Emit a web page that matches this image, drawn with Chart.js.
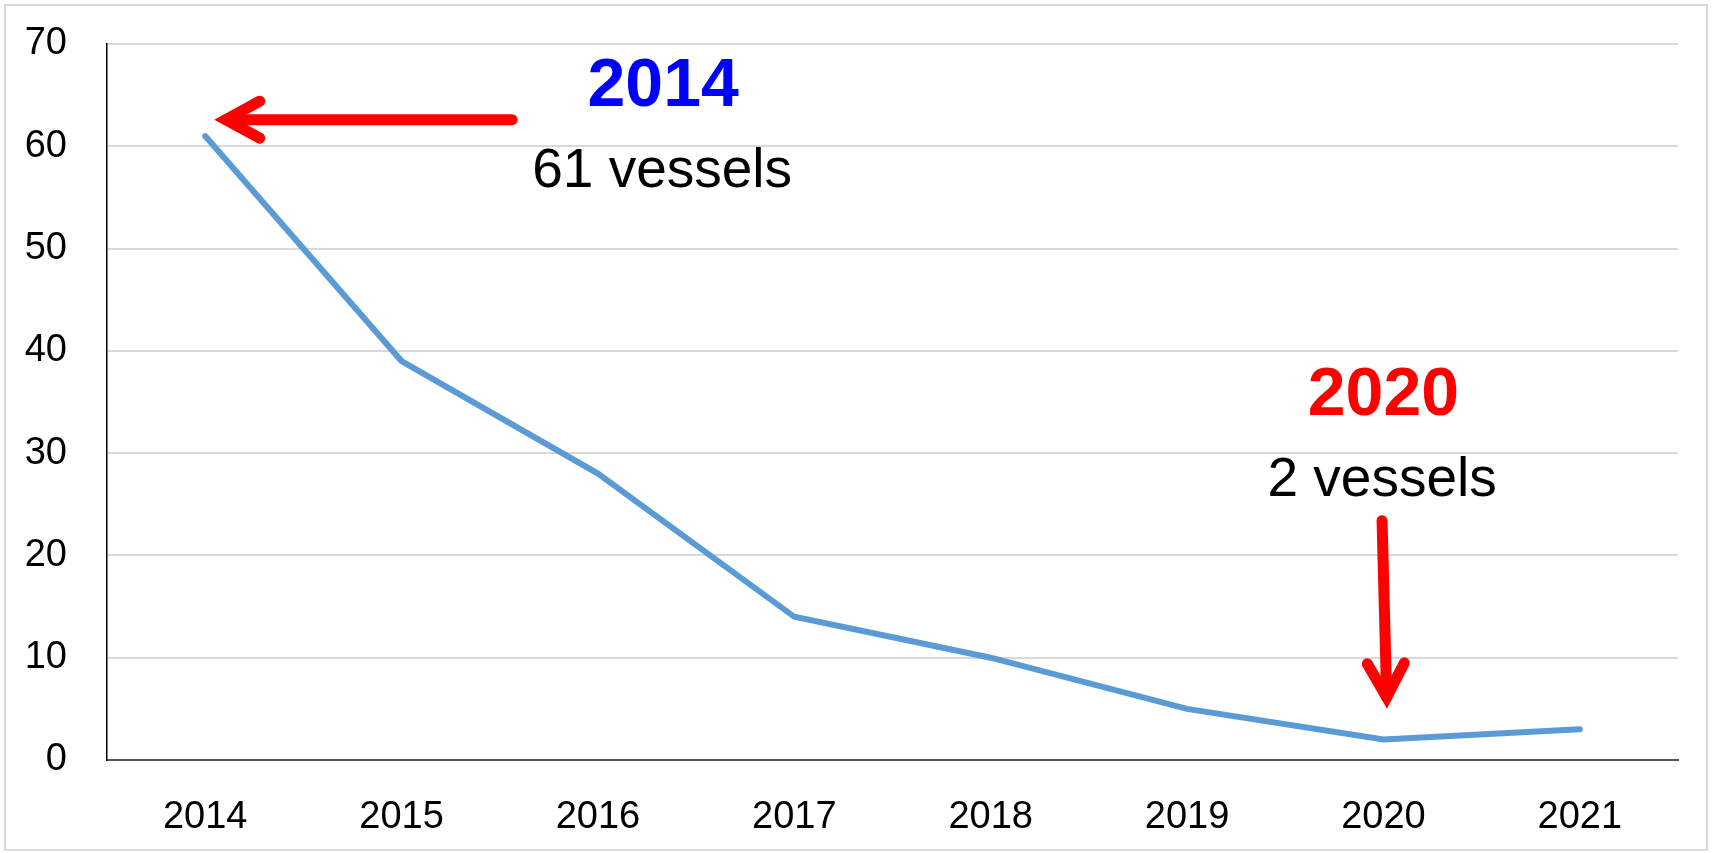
<!DOCTYPE html>
<html lang="en">
<head>
    <meta charset="UTF-8">
    <title>Vessels per year</title>
    <script src="https://cdn.jsdelivr.net/npm/chart.js"></script>
    <style>
        html, body { margin: 0; padding: 0; background: #fff; }
        .chart-container { width: 1712px; height: 853px; }
    </style>
</head>
<body>
    <div class="chart-container"><canvas id="vesselChart"></canvas></div>

    <script>
        // data
        const years = ['2014', '2015', '2016', '2017', '2018', '2019', '2020', '2021'];
        const vessels = [61, 39, 28, 14, 10, 5, 2, 3];
        const yTicks = [0, 10, 20, 30, 40, 50, 60, 70];

        const FONT = "'Liberation Sans', Arial, sans-serif";

        // frame around the whole picture
        const framePlugin = {
            id: 'frame',
            beforeDraw(chart) {
                const ctx = chart.ctx;
                ctx.save();
                ctx.strokeStyle = '#d9d9d9';
                ctx.lineWidth = 2;
                ctx.strokeRect(5, 5, chart.width - 10, chart.height - 8);
                ctx.restore();
            }
        };

        function arrow(ctx, x1, y1, x2, y2) {
            const ang = Math.atan2(y2 - y1, x2 - x1);
            const lw = 11, back = 34, half = 18.5;
            const cos = Math.cos(ang), sin = Math.sin(ang);
            // pull the vertex back so the miter point lands on (x2, y2)
            const miter = (lw / 2) / Math.sin(Math.atan2(half, back));
            const tx = x2 - miter * cos, ty = y2 - miter * sin;
            const bx = tx - back * cos, by = ty - back * sin;
            const nx = -sin * half, ny = cos * half;
            ctx.save();
            ctx.strokeStyle = '#ff0000';
            ctx.lineWidth = lw;
            ctx.lineCap = 'round';
            ctx.lineJoin = 'miter';
            ctx.beginPath();
            ctx.moveTo(x1, y1);
            ctx.lineTo(tx, ty);
            ctx.stroke();
            ctx.beginPath();
            ctx.moveTo(bx + nx, by + ny);
            ctx.lineTo(tx, ty);
            ctx.lineTo(bx - nx, by - ny);
            ctx.stroke();
            ctx.restore();
        }

        // notes and arrows, placed in data space (category index, value)
        const notePlugin = {
            id: 'notes',
            afterDatasetsDraw(chart) {
                const ctx = chart.ctx;
                const x = chart.scales.x, y = chart.scales.y;
                const px = i => x.getPixelForValue(i);
                const py = v => y.getPixelForValue(v);

                arrow(ctx, px(1.563), py(62.6), px(0.046), py(62.6));
                arrow(ctx, px(5.993), py(23.4), px(6.018), py(5.0));

                ctx.save();
                ctx.textAlign = 'center';
                ctx.textBaseline = 'middle';
                ctx.font = 'bold 68px ' + FONT;
                ctx.fillStyle = '#0000ff';
                ctx.fillText('2014', px(2.332), py(65.75));
                ctx.fillStyle = '#ff0000';
                ctx.fillText('2020', px(6.0), py(35.6));
                ctx.font = '55px ' + FONT;
                ctx.fillStyle = '#000';
                ctx.fillText('61 vessels', px(2.327), py(57.5));
                ctx.fillText('2 vessels', px(5.993), py(27.3));
                ctx.restore();
            }
        };

        const vesselChart = new Chart(document.getElementById('vesselChart').getContext('2d'), {
            type: 'line',
            data: {
                labels: years,
                datasets: [{
                    label: 'Vessels',
                    data: vessels,
                    borderColor: '#5b9bd5',
                    borderWidth: 6,
                    borderCapStyle: 'round',
                    pointRadius: 0,
                    tension: 0,
                    fill: false
                }]
            },
            options: {
                responsive: true,
                maintainAspectRatio: false,
                animation: false,
                layout: { padding: { top: 44, right: 34, bottom: 0, left: 0 } },
                plugins: { legend: { display: false }, tooltip: { enabled: false } },
                scales: {
                    x: {
                        offset: true,
                        grid: { color: 'rgba(0,0,0,0)', drawTicks: false, offset: true },
                        border: { color: '#555', width: 2 },
                        ticks: { color: '#000', font: { family: FONT, size: 38 }, padding: 35, maxRotation: 0 },
                        afterFit(s) { s.height = 93; }
                    },
                    y: {
                        min: 0,
                        max: 70,
                        afterBuildTicks(s) { s.ticks = yTicks.map(v => ({ value: v })); },
                        grid: { color: '#d9d9d9', lineWidth: 2, drawTicks: false },
                        border: { color: '#000', width: 1.5 },
                        ticks: { color: '#000', font: { family: FONT, size: 38 }, padding: 40 },
                        afterFit(s) {
                            s.width = 107;
                            // the tick padding should not push the plot down
                            s.paddingTop = 23;
                            s.paddingBottom = 23;
                        }
                    }
                }
            },
            plugins: [framePlugin, notePlugin]
        });
    </script>
</body>
</html>
